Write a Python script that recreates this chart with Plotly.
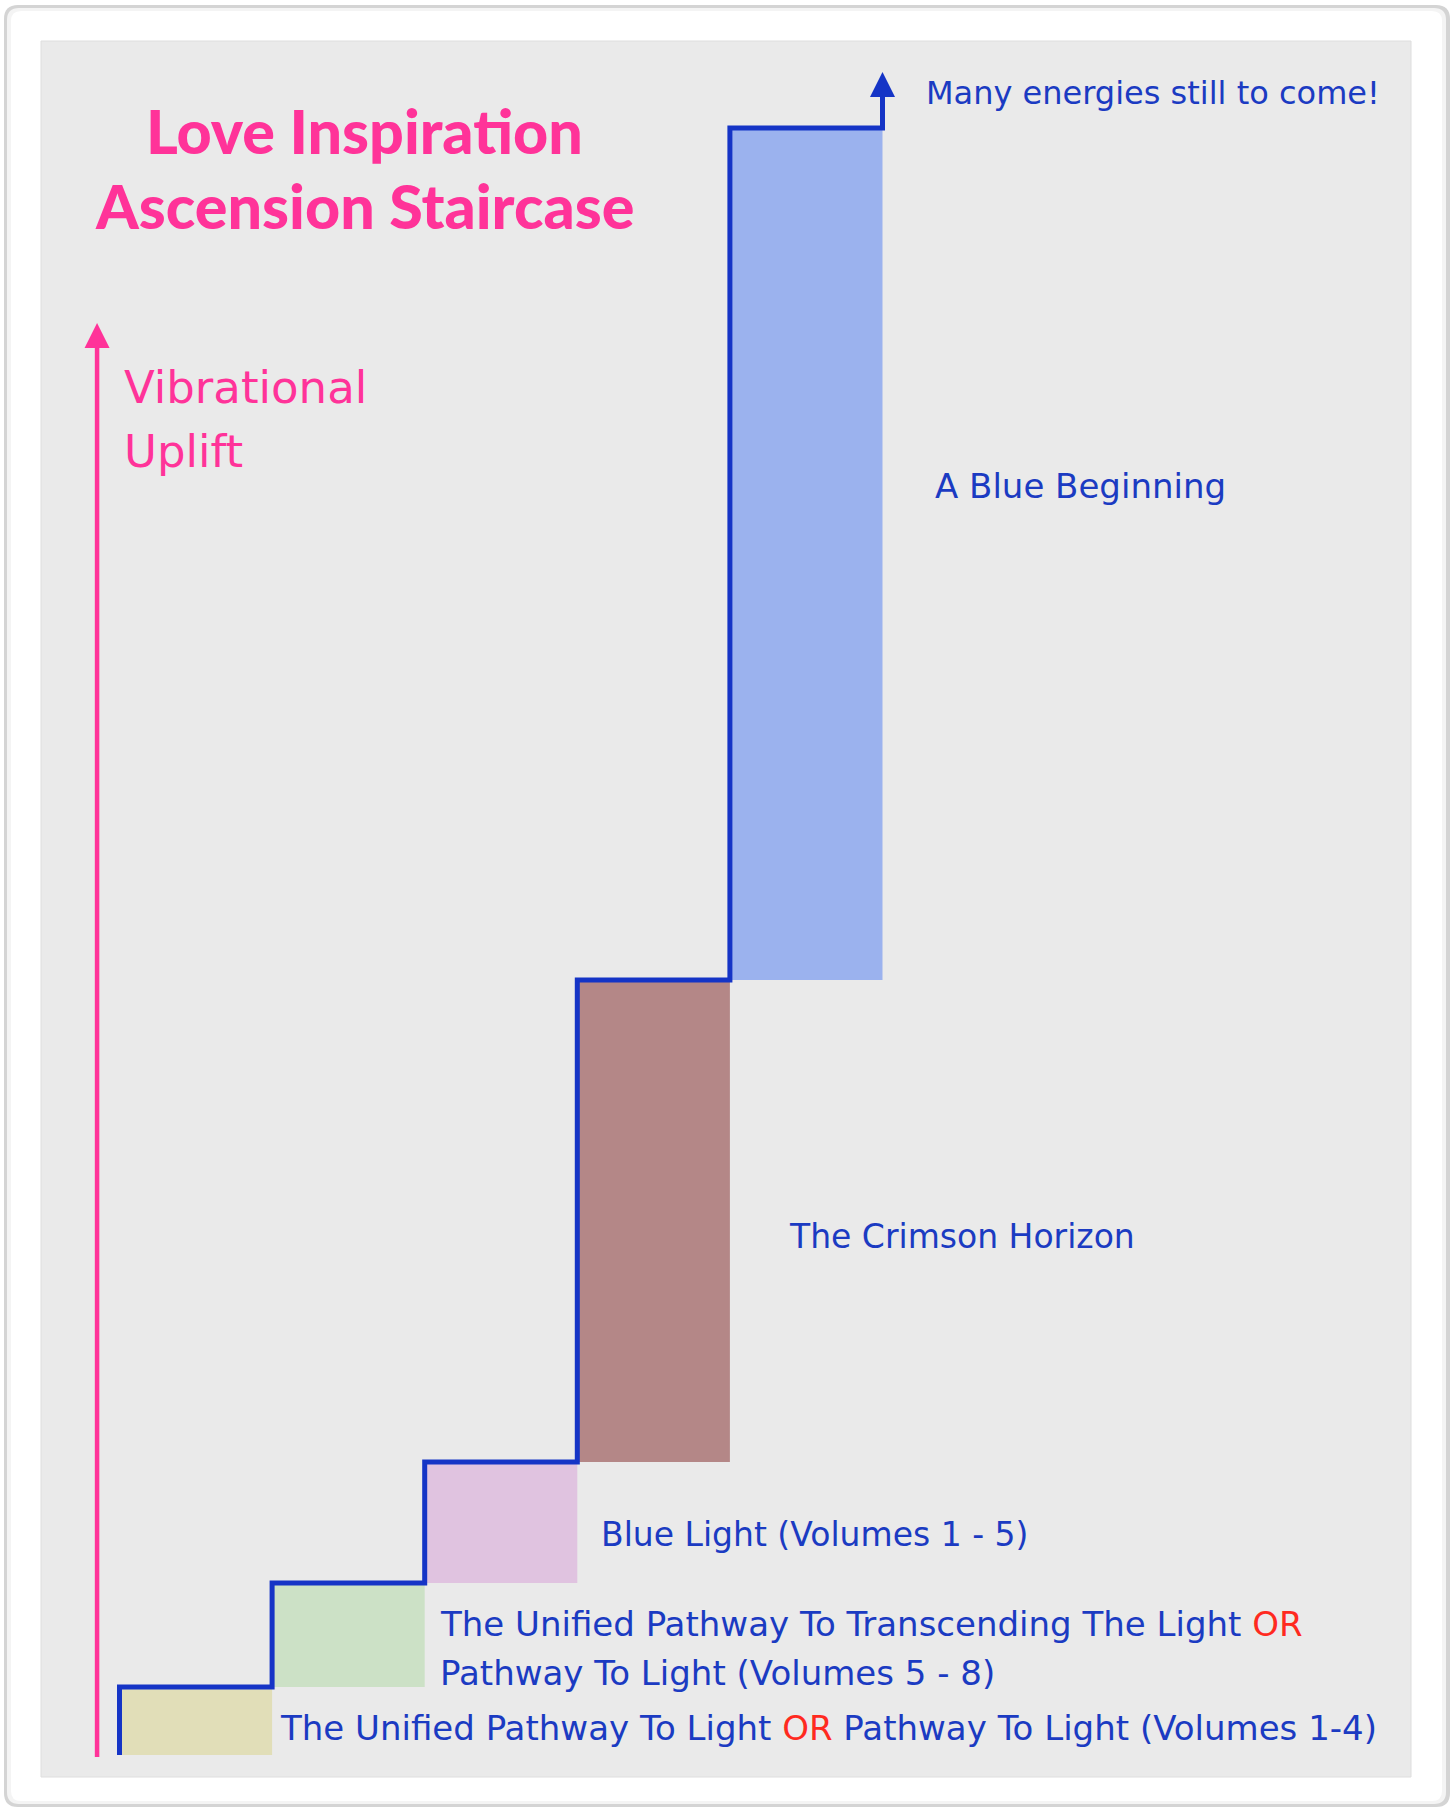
import plotly.graph_objects as go

W, H = 1456, 1807

# ---------------- data ----------------
step_names = [
    "The Unified Pathway To Light OR Pathway To Light (Volumes 1-4)",
    "The Unified Pathway To Transcending The Light OR Pathway To Light (Volumes 5 - 8)",
    "Blue Light (Volumes 1 - 5)",
    "The Crimson Horizon",
    "A Blue Beginning",
]
step_index = [0, 1, 2, 3, 4]
levels = [68, 172, 293, 775, 1627]          # vibrational level reached by each step
step_colors = ["#E1DEB8", "#CCE1C6", "#E0C3E0", "#B48787", "#9BB2EE"]
future_arrow_tip = 1683                       # "Many energies still to come!"
future_arrow_base = 1660
uplift_axis_x = -0.147                        # vibrational uplift arrow position
uplift_axis_bottom = -2
uplift_axis_top = 1432

# ---------------- styles ----------------
BLUE_LINE = "#1534C6"
BLUE_TEXT = "#1B3BC2"
PINK = "#FF3399"
RED = "#FF2A1F"
GRAY = "#EAEAEA"

# axis geometry (pixels of the plotting panel)
PX0, PX1, PY0, PY1 = 41, 1411, 41, 1777
X_ORIGIN_PX, X_STEP_PX = 119.5, 152.6
Y_ORIGIN_PX = 1755

x_range = [(PX0 - X_ORIGIN_PX) / X_STEP_PX, (PX1 - X_ORIGIN_PX) / X_STEP_PX]
y_range = [Y_ORIGIN_PX - PY1, Y_ORIGIN_PX - PY0]


def dx(px):
    return (px - X_ORIGIN_PX) / X_STEP_PX


def dy(py):
    return Y_ORIGIN_PX - py


bases = [0] + levels[:-1]
heights = [t - b for t, b in zip(levels, bases)]

fig = go.Figure()

fig.add_trace(go.Bar(
    x=[i + 0.5 for i in step_index], y=heights, base=bases, width=1,
    marker=dict(color=step_colors, line=dict(width=0)),
    hovertext=step_names, showlegend=False,
))

# staircase outline
stair_x = [0] + [i + 1 for i in step_index] + [step_index[-1] + 1]
stair_y = [0] + levels + [future_arrow_base]
fig.add_trace(go.Scatter(
    x=stair_x, y=stair_y, mode="lines", line=dict(color=BLUE_LINE, width=5, shape="vh"),
    showlegend=False, hoverinfo="skip",
))
fig.add_trace(go.Scatter(
    x=[step_index[-1] + 1], y=[future_arrow_tip], mode="markers",
    marker=dict(symbol="arrow-up", size=25, color=BLUE_LINE, line=dict(width=0)),
    showlegend=False, hoverinfo="skip",
))

# vibrational uplift arrow
fig.add_trace(go.Scatter(
    x=[uplift_axis_x, uplift_axis_x], y=[uplift_axis_bottom, uplift_axis_top - 22],
    mode="lines", line=dict(color=PINK, width=4.5),
    showlegend=False, hoverinfo="skip",
))
fig.add_trace(go.Scatter(
    x=[uplift_axis_x], y=[uplift_axis_top], mode="markers",
    marker=dict(symbol="arrow-up", size=25, color=PINK, line=dict(width=0)),
    showlegend=False, hoverinfo="skip",
))

LABEL_FONT = "DejaVu Sans, Noto Sans, sans-serif"
or_span = '<span style="color:%s">OR</span>' % RED
labels = [
    ("Many energies still to come!", 924, 93, 32),
    ("A Blue Beginning", 933, 486, 34),
    ("The Crimson Horizon", 787, 1236, 33),
    ("Blue Light (Volumes 1 - 5)", 599, 1534, 33),
    ("The Unified Pathway To Transcending The Light " + or_span, 438, 1624, 34),
    ("Pathway To Light (Volumes 5 - 8)", 438, 1673, 34),
    ("The Unified Pathway To Light " + or_span + " Pathway To Light (Volumes 1-4)", 278, 1728, 34),
]
annotations = []
for txt, px, py, fs in labels:
    annotations.append(dict(
        x=dx(px), y=dy(py), xref="x", yref="y", text=txt, showarrow=False,
        xanchor="left", yanchor="middle",
        font=dict(family=LABEL_FONT, size=fs, color=BLUE_TEXT),
    ))

# axis caption
for txt, py in [("Vibrational", 388), ("Uplift", 452)]:
    annotations.append(dict(
        x=dx(122), y=dy(py), xref="x", yref="y", text=txt, showarrow=False,
        xanchor="left", yanchor="middle",
        font=dict(family=LABEL_FONT, size=45, color=PINK),
    ))

# title
TITLE_FONT = "Lato, Roboto, Liberation Sans, sans-serif"
for txt, py in [("Love Inspiration", 131), ("Ascension Staircase", 205)]:
    annotations.append(dict(
        x=364 / W, y=1 - py / H, xref="paper", yref="paper", text=txt,
        showarrow=False, xanchor="center", yanchor="middle",
        font=dict(family=TITLE_FONT, size=61, color=PINK, weight=900),
    ))


def rounded_rect(x0, y0, x1, y1, r):
    X = lambda v: v / W
    Y = lambda v: 1 - v / H
    return ("M {a},{b} L {c},{b} Q {e},{b} {e},{f} L {e},{g} Q {e},{h} {c},{h} "
            "L {a},{h} Q {i},{h} {i},{g} L {i},{f} Q {i},{b} {a},{b} Z").format(
        a=X(x0 + r), b=Y(y0), c=X(x1 - r), e=X(x1), f=Y(y0 + r), g=Y(y1 - r),
        h=Y(y1), i=X(x0))


shapes = [
    dict(type="path", path=rounded_rect(4, 5, 1450, 1807, 14), xref="paper", yref="paper",
         fillcolor="#D4D4D4", line=dict(width=0), layer="below"),
    dict(type="path", path=rounded_rect(7, 8, 1446, 1804, 12), xref="paper", yref="paper",
         fillcolor="#F4F4F4", line=dict(width=0), layer="below"),
    dict(type="path", path=rounded_rect(11, 11, 1442, 1801, 10), xref="paper", yref="paper",
         fillcolor="#FFFFFF", line=dict(width=0), layer="below"),
    dict(type="rect", x0=PX0 / W, x1=PX1 / W, y0=1 - PY1 / H, y1=1 - PY0 / H,
         xref="paper", yref="paper", fillcolor=GRAY, line=dict(color="#DEDEDE", width=1),
         layer="below"),
]

fig.update_layout(
    width=W, height=H,
    margin=dict(l=0, r=0, t=0, b=0),
    paper_bgcolor="white", plot_bgcolor="rgba(0,0,0,0)",
    xaxis=dict(domain=[PX0 / W, PX1 / W], range=x_range, visible=False, fixedrange=True),
    yaxis=dict(domain=[1 - PY1 / H, 1 - PY0 / H], range=y_range, visible=False, fixedrange=True),
    annotations=annotations, shapes=shapes, showlegend=False,
)

fig.write_html("out.html", config={"displayModeBar": False},
               post_script="document.body.style.margin='0';")
